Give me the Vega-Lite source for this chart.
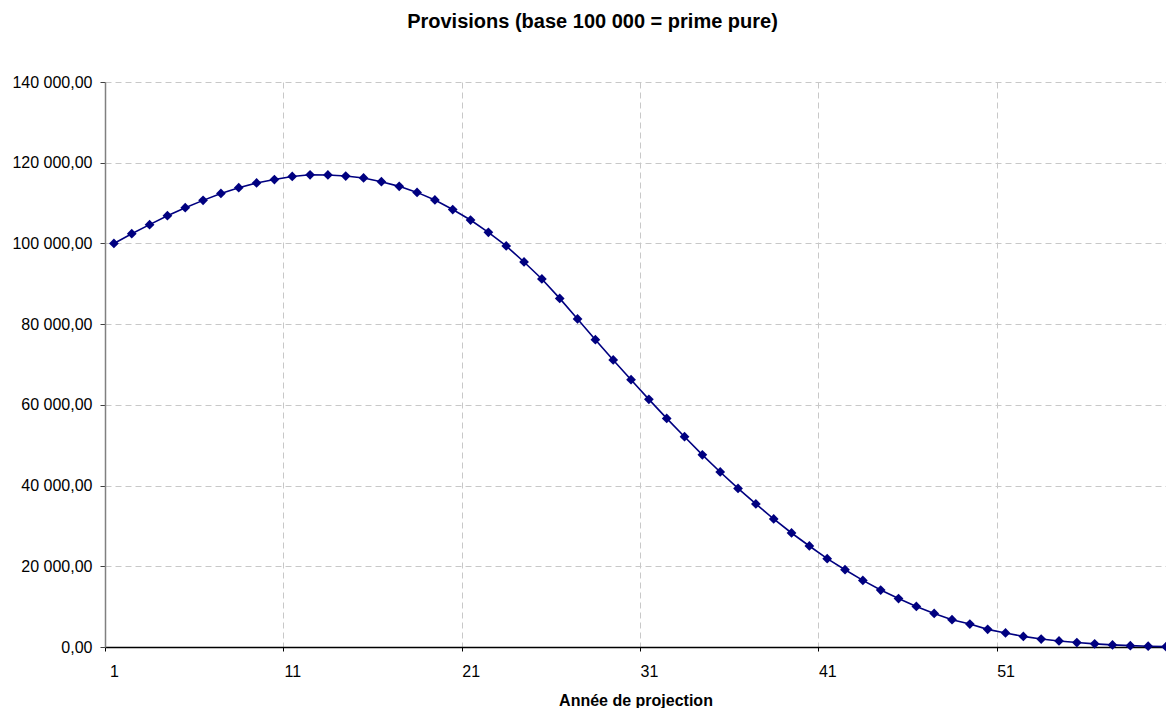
{
  "$schema": "https://vega.github.io/schema/vega-lite/v6.json",
  "width": 1061,
  "height": 565,
  "autosize": {"type": "none"},
  "padding": {"left": 105, "top": 82, "right": 0, "bottom": 61},
  "background": "white",
  "config": {
    "locale": {"number": {"decimal": ",", "thousands": " ", "grouping": [3], "currency": ["", " €"]}},
    "view": {"stroke": null},
    "font": "Liberation Sans"
  },
  "title": {
    "text": "Provisions (base 100 000 = prime pure)",
    "font": "Liberation Sans",
    "fontSize": 20,
    "fontWeight": "bold",
    "color": "black",
    "offset": 42,
    "dx": -43
  },
  "data": {
    "values": [
      {"annee": 1, "provision": 100000},
      {"annee": 2, "provision": 102400},
      {"annee": 3, "provision": 104650},
      {"annee": 4, "provision": 106880},
      {"annee": 5, "provision": 108860},
      {"annee": 6, "provision": 110670},
      {"annee": 7, "provision": 112400},
      {"annee": 8, "provision": 113820},
      {"annee": 9, "provision": 114980},
      {"annee": 10, "provision": 115830},
      {"annee": 11, "provision": 116600},
      {"annee": 12, "provision": 117000},
      {"annee": 13, "provision": 116960},
      {"annee": 14, "provision": 116700},
      {"annee": 15, "provision": 116220},
      {"annee": 16, "provision": 115300},
      {"annee": 17, "provision": 114140},
      {"annee": 18, "provision": 112650},
      {"annee": 19, "provision": 110770},
      {"annee": 20, "provision": 108400},
      {"annee": 21, "provision": 105800},
      {"annee": 22, "provision": 102750},
      {"annee": 23, "provision": 99370},
      {"annee": 24, "provision": 95400},
      {"annee": 25, "provision": 91190},
      {"annee": 26, "provision": 86380},
      {"annee": 27, "provision": 81280},
      {"annee": 28, "provision": 76150},
      {"annee": 29, "provision": 71120},
      {"annee": 30, "provision": 66240},
      {"annee": 31, "provision": 61360},
      {"annee": 32, "provision": 56650},
      {"annee": 33, "provision": 52110},
      {"annee": 34, "provision": 47620},
      {"annee": 35, "provision": 43370},
      {"annee": 36, "provision": 39300},
      {"annee": 37, "provision": 35440},
      {"annee": 38, "provision": 31720},
      {"annee": 39, "provision": 28250},
      {"annee": 40, "provision": 25030},
      {"annee": 41, "provision": 21880},
      {"annee": 42, "provision": 19150},
      {"annee": 43, "provision": 16500},
      {"annee": 44, "provision": 14120},
      {"annee": 45, "provision": 12000},
      {"annee": 46, "provision": 10060},
      {"annee": 47, "provision": 8330},
      {"annee": 48, "provision": 6770},
      {"annee": 49, "provision": 5690},
      {"annee": 50, "provision": 4370},
      {"annee": 51, "provision": 3470},
      {"annee": 52, "provision": 2630},
      {"annee": 53, "provision": 1980},
      {"annee": 54, "provision": 1500},
      {"annee": 55, "provision": 1100},
      {"annee": 56, "provision": 780},
      {"annee": 57, "provision": 520},
      {"annee": 58, "provision": 330},
      {"annee": 59, "provision": 190},
      {"annee": 60, "provision": 90}
    ]
  },
  "encoding": {
    "x": {
      "field": "annee",
      "type": "quantitative",
      "scale": {"domain": [0.5, 60], "nice": false, "zero": false},
      "axis": {
        "values": [0.5, 10.5, 20.5, 30.5, 40.5, 50.5],
        "labelExpr": "format(datum.value + 0.5, 'd')",
        "labelOffset": 9,
        "labelFlush": false,
        "labelBound": false,
        "labelFont": "Liberation Sans",
        "labelFontSize": 16,
        "labelColor": "black",
        "labelPadding": 12,
        "ticks": true,
        "tickSize": 4,
        "tickColor": "black",
        "domain": true,
        "domainColor": "black",
        "domainWidth": 1.5,
        "grid": true,
        "gridColor": "#c8c8c8",
        "gridDash": [6, 4],
        "gridWidth": 1,
        "title": "Année de projection",
        "titleFont": "Liberation Sans",
        "titleFontSize": 16,
        "titleFontWeight": "bold",
        "titleColor": "black",
        "titlePadding": 13
      }
    },
    "y": {
      "field": "provision",
      "type": "quantitative",
      "scale": {"domain": [0, 140000], "nice": false},
      "axis": {
        "values": [0, 20000, 40000, 60000, 80000, 100000, 120000, 140000],
        "format": ",.2f",
        "labelFont": "Liberation Sans",
        "labelFontSize": 16,
        "labelColor": "black",
        "labelPadding": 8,
        "tickSize": 5,
        "tickColor": "#404040",
        "domain": true,
        "domainColor": "#808080",
        "domainWidth": 1.5,
        "grid": true,
        "gridColor": "#c8c8c8",
        "gridDash": [6, 4],
        "gridWidth": 1,
        "title": null
      }
    }
  },
  "layer": [
    {"mark": {"type": "line", "color": "#000080", "strokeWidth": 1.6}},
    {"mark": {"type": "point", "shape": "diamond", "filled": true, "color": "#000080", "size": 95, "opacity": 1}}
  ]
}
